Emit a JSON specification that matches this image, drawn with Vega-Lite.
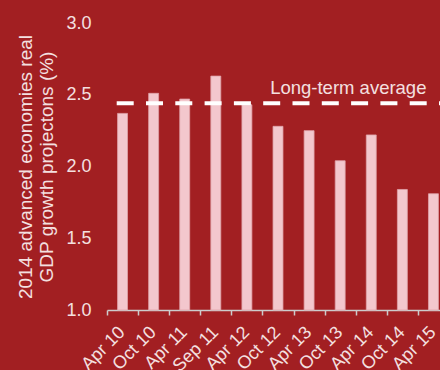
{
  "$schema": "https://vega.github.io/schema/vega-lite/v6.json",
  "width": 342,
  "height": 287,
  "autosize": {"type": "none"},
  "padding": {"left": 107, "top": 23, "right": 0, "bottom": 60},
  "background": "#A21F22",
  "config": {
    "view": {"stroke": null},
    "font": "Liberation Sans",
    "axis": {"labelFont": "Liberation Sans", "titleFont": "Liberation Sans"}
  },
  "datasets": {
    "bars": [
      {"vintage": "Apr 10", "growth": 2.37},
      {"vintage": "Oct 10", "growth": 2.51},
      {"vintage": "Apr 11", "growth": 2.47},
      {"vintage": "Sep 11", "growth": 2.63},
      {"vintage": "Apr 12", "growth": 2.43},
      {"vintage": "Oct 12", "growth": 2.28},
      {"vintage": "Apr 13", "growth": 2.25},
      {"vintage": "Oct 13", "growth": 2.04},
      {"vintage": "Apr 14", "growth": 2.22},
      {"vintage": "Oct 14", "growth": 1.84},
      {"vintage": "Apr 15", "growth": 1.81}
    ],
    "avg": [
      {"vintage": "Apr 15", "growth": 2.44, "label": "Long-term average"}
    ]
  },
  "layer": [
    {
      "data": {"name": "bars"},
      "mark": {"type": "bar", "width": {"band": 0.32}, "color": "#F3C7CD", "stroke": "#E0A3AA", "strokeWidth": 0.8},
      "encoding": {
        "x": {
          "field": "vintage", "type": "nominal", "sort": null,
          "scale": {"paddingInner": 0, "paddingOuter": 0},
          "axis": {
            "title": null, "labelAngle": -45, "labelFontSize": 18, "labelColor": "#F4E0E0",
            "domainColor": "#CCCCCC", "domainWidth": 1.5, "tickColor": "#CCCCCC", "tickWidth": 1.5,
            "tickSize": 5, "tickBand": "extent", "labelPadding": 8, "labelOffset": -7, "grid": false
          }
        },
        "y": {
          "field": "growth", "type": "quantitative",
          "scale": {"domain": [1, 3], "zero": false, "nice": false},
          "axis": {
            "title": ["2014 advanced economies real", "GDP growth projectons (%)"],
            "titleFontSize": 19, "titleFontWeight": "normal", "titleColor": "#F4E0E0", "titleLineHeight": 21,
            "titlePadding": 9,
            "values": [1, 1.5, 2, 2.5, 3], "format": ".1f",
            "labelFontSize": 18, "labelColor": "#F4E0E0", "labelPadding": 16,
            "domain": false, "ticks": false, "grid": false
          }
        },
        "y2": {"datum": 1}
      }
    },
    {
      "data": {"name": "avg"},
      "mark": {"type": "rule", "color": "#FFFFFF", "strokeWidth": 4, "strokeDash": [17, 12.3], "strokeDashOffset": 7},
      "encoding": {
        "y": {"field": "growth", "type": "quantitative"}
      }
    },
    {
      "data": {"name": "avg"},
      "mark": {"type": "text", "align": "right", "baseline": "alphabetic", "dx": -7, "dy": -9, "fontSize": 18.5, "color": "#F4E0E0", "font": "Liberation Sans"},
      "encoding": {
        "x": {"field": "vintage", "type": "nominal", "sort": null},
        "y": {"field": "growth", "type": "quantitative"},
        "text": {"field": "label"}
      }
    }
  ]
}
